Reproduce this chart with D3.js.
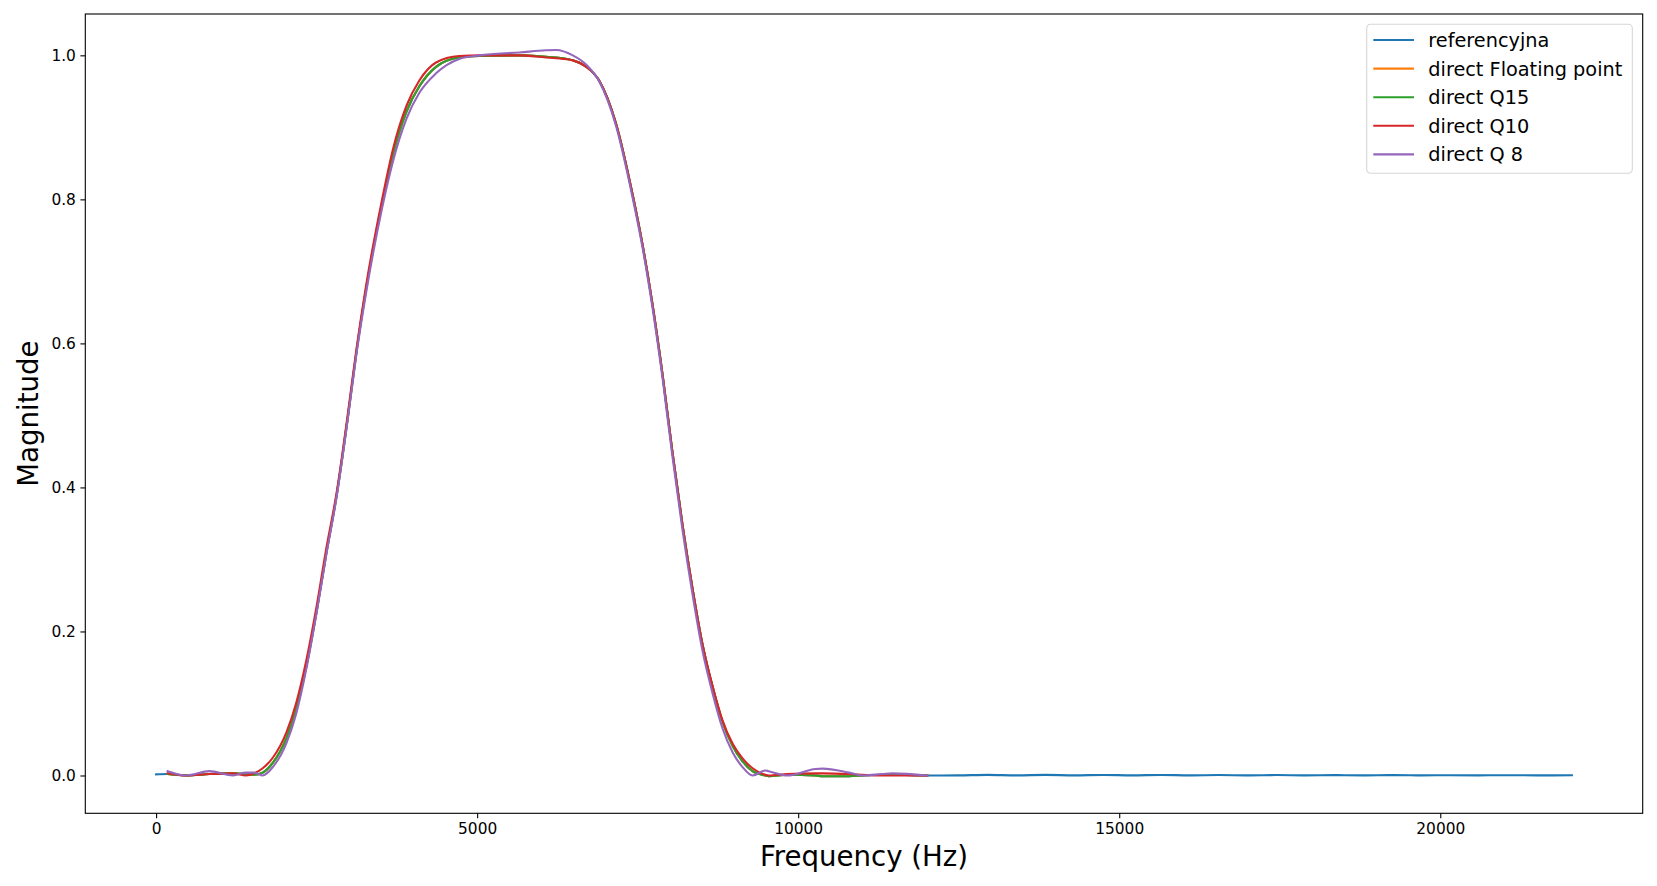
<!DOCTYPE html>
<html>
<head>
<meta charset="utf-8">
<script src="https://cdn.jsdelivr.net/npm/d3@7"></script>
<style>
  body { margin: 0; background: #fff; }
  svg { display: block; }
</style>
</head>
<body>
<svg id="chart" width="1657" height="886"></svg>
<script>
// frequencies (Hz) where the direct-form responses were read
const freqDirect = [180, 470, 830, 1200, 1400, 1530, 1660, 1820, 2030, 2180, 2340, 2500, 2650, 2810,
  2990, 3120, 3270, 3520, 3690, 3900, 4100, 4360, 4720, 5040, 5660, 6070, 6230, 6490, 6700, 6900,
  7160, 7420, 7580, 7730, 7890, 8040, 8200, 8350, 8510, 8670, 8820, 8980, 9130, 9290, 9490, 9540,
  9830, 10270, 10380, 10790, 11000, 11310, 11470, 12010]

const magFloat = [0.002, 0.000, 0.002, 0.003, 0.002, 0.001, 0.004, 0.018, 0.052, 0.092, 0.152, 0.228, 0.308, 0.388,
  0.500, 0.588, 0.675, 0.795, 0.863, 0.922, 0.957, 0.984, 0.997, 0.999, 1.000, 0.998, 0.997, 0.993, 0.984, 0.965,
  0.906, 0.807, 0.735, 0.655, 0.555, 0.450, 0.347, 0.262, 0.182, 0.122, 0.075, 0.041, 0.020, 0.006, 0.000, -0.001,
  0.001, 0.000, -0.001, -0.001, 0.000, 0.001, 0.001, 0.000]

const magQ15 = [0.002, 0.000, 0.002, 0.003, 0.002, 0.001, 0.004, 0.018, 0.052, 0.092, 0.152, 0.228, 0.308, 0.388,
  0.500, 0.588, 0.675, 0.795, 0.863, 0.922, 0.957, 0.984, 0.997, 0.999, 1.000, 0.998, 0.997, 0.993, 0.984, 0.965,
  0.906, 0.807, 0.735, 0.655, 0.555, 0.450, 0.347, 0.262, 0.182, 0.122, 0.075, 0.041, 0.020, 0.006, 0.000, -0.001,
  0.001, 0.000, -0.001, -0.001, 0.000, 0.001, 0.001, 0.000]

const magQ10 = [0.003, 0.000, 0.002, 0.003, 0.000, 0.003, 0.010, 0.025, 0.060, 0.100, 0.160, 0.235, 0.315, 0.392,
  0.505, 0.592, 0.680, 0.800, 0.870, 0.930, 0.965, 0.990, 0.999, 1.000, 1.000, 0.997, 0.996, 0.993, 0.984, 0.965,
  0.906, 0.807, 0.735, 0.655, 0.555, 0.450, 0.347, 0.262, 0.182, 0.123, 0.077, 0.044, 0.024, 0.010, 0.001, 0.000,
  0.002, 0.003, 0.003, 0.002, 0.001, 0.000, 0.000, 0.000]

const magQ8 = [0.006, 0.000, 0.006, 0.000, 0.004, 0.004, 0.000, 0.012, 0.045, 0.085, 0.148, 0.226, 0.306, 0.386,
  0.498, 0.585, 0.670, 0.788, 0.853, 0.912, 0.948, 0.975, 0.995, 1.000, 1.004, 1.007, 1.0075, 1.000, 0.987, 0.964,
  0.903, 0.803, 0.731, 0.650, 0.550, 0.444, 0.340, 0.254, 0.173, 0.113, 0.066, 0.032, 0.012, 0.000, 0.007, 0.006,
  0.000, 0.009, 0.0095, 0.004, 0.000, 0.002, 0.003, 0.000]

// reference response goes over the whole band 0..22050 Hz
const refHeadFreq = [0]
const refHeadMag = [0.0015]
const refTailFreq = [12500, 12950, 13400, 13850, 14300, 14750, 15200, 15650, 16100, 16550, 17000,
  17450, 17900, 18350, 18800, 19250, 19700, 20150, 20600, 21050, 21500, 22050]
const refTailMag = [0.0002, 0.0009, 0.0002, 0.0008, 0.0002, 0.0007, 0.0002, 0.0007, 0.0002, 0.0006, 0.0002,
  0.0006, 0.0002, 0.0005, 0.0002, 0.0005, 0.0002, 0.0004, 0.0002, 0.0004, 0.0002, 0.0003]
const refFreq = refHeadFreq.concat(freqDirect, refTailFreq)
const refMag = refHeadMag.concat(magFloat, refTailMag)

const seriesNames = ['referencyjna', 'direct Floating point', 'direct Q15', 'direct Q10', 'direct Q 8']
const xTicks = [0, 5000, 10000, 15000, 20000]
const yTicks = [0.0, 0.2, 0.4, 0.6, 0.8, 1.0]

const colors = ['#1f77b4', '#ff7f0e', '#2ca02c', '#d62728', '#9467bd']
const font = '"DejaVu Sans", sans-serif'

const series = [
  {name: seriesNames[0], f: refFreq, m: refMag},
  {name: seriesNames[1], f: freqDirect, m: magFloat},
  {name: seriesNames[2], f: freqDirect, m: magQ15},
  {name: seriesNames[3], f: freqDirect, m: magQ10},
  {name: seriesNames[4], f: freqDirect, m: magQ8},
].map((s, i) => ({name: s.name, color: colors[i], points: s.f.map((f, j) => ({f, m: s.m[j]}))}))

const plotLeft = 85.3, plotRight = 1642.7, plotTop = 14, plotBottom = 813.3

// matplotlib style 5% margins
const xMin = 0, xMax = 22050
const xPad = (xMax - xMin) * 0.05
const xScale = d3.scaleLinear([xMin - xPad, xMax + xPad], [plotLeft, plotRight])
const yScale = d3.scaleLinear([-0.0525, 1.0574], [plotBottom, plotTop])

const svg = d3.select('#chart')

svg.append('defs').append('clipPath').attr('id', 'plotclip')
  .append('rect')
  .attr('x', plotLeft).attr('y', plotTop)
  .attr('width', plotRight - plotLeft).attr('height', plotBottom - plotTop)

const line = d3.line()
  .x(d => xScale(d.f))
  .y(d => yScale(d.m))
  .curve(d3.curveMonotoneX)

svg.append('g')
  .attr('clip-path', 'url(#plotclip)')
  .selectAll('path')
  .data(series)
  .join('path')
  .attr('d', d => line(d.points))
  .attr('fill', 'none')
  .attr('stroke', d => d.color)
  .attr('stroke-width', 2.1)
  .attr('stroke-linejoin', 'round')
  .attr('stroke-linecap', 'square')

// axes
const xAxis = d3.axisBottom(xScale)
  .tickValues(xTicks)
  .tickFormat(d3.format('d'))
  .tickSizeOuter(0)
  .tickSize(4.9)
  .tickPadding(4.5)

const yAxis = d3.axisLeft(yScale)
  .tickValues(yTicks)
  .tickFormat(d3.format('.1f'))
  .tickSizeOuter(0)
  .tickSize(4.9)
  .tickPadding(4.5)

const gx = svg.append('g')
  .attr('transform', `translate(0, ${plotBottom})`)
  .call(xAxis)
const gy = svg.append('g')
  .attr('transform', `translate(${plotLeft}, 0)`)
  .call(yAxis)

for (const g of [gx, gy]) {
  g.select('.domain').remove()
  g.selectAll('line').attr('stroke', '#000').attr('stroke-width', 1.1)
  g.selectAll('text')
    .attr('font-family', font)
    .attr('font-size', 15.4)
    .attr('fill', '#000')
}

svg.append('rect')
  .attr('x', plotLeft).attr('y', plotTop)
  .attr('width', plotRight - plotLeft).attr('height', plotBottom - plotTop)
  .attr('fill', 'none')
  .attr('stroke', '#000')
  .attr('stroke-width', 1.1)

// axis labels
svg.append('text')
  .attr('x', (plotLeft + plotRight) / 2)
  .attr('y', 866)
  .attr('text-anchor', 'middle')
  .attr('font-family', font)
  .attr('font-size', 27.6)
  .text('Frequency (Hz)')

svg.append('text')
  .attr('transform', `translate(38, ${(plotTop + plotBottom) / 2}) rotate(-90)`)
  .attr('text-anchor', 'middle')
  .attr('font-family', font)
  .attr('font-size', 27.6)
  .text('Magnitude')

// legend
const legend = svg.append('g').attr('transform', 'translate(1366.7, 24.3)')
legend.append('rect')
  .attr('width', 265.6).attr('height', 149)
  .attr('rx', 4)
  .attr('fill', '#fff')
  .attr('fill-opacity', 0.8)
  .attr('stroke', '#d6d6d6')
  .attr('stroke-width', 1.1)

const rows = legend.selectAll('g.row')
  .data(series)
  .join('g')
  .attr('class', 'row')
  .attr('transform', (d, i) => `translate(0, ${15.7 + i * 28.6})`)

rows.append('line')
  .attr('x1', 6.6).attr('x2', 47.3)
  .attr('stroke', d => d.color)
  .attr('stroke-width', 2.1)

rows.append('text')
  .attr('x', 61.6)
  .attr('dy', '0.36em')
  .attr('font-family', font)
  .attr('font-size', 19.3)
  .attr('fill', '#000')
  .text(d => d.name)
</script>
</body>
</html>
